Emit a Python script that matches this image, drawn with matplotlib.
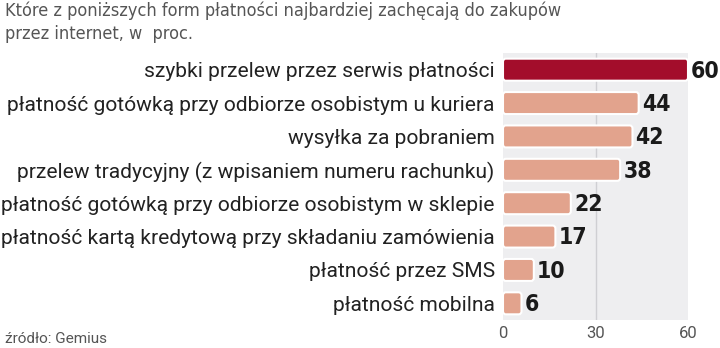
import matplotlib.pyplot as plt
from matplotlib.patches import FancyBboxPatch

title = "Które z poniższych form płatności najbardziej zachęcają do zakupów\nprzez internet, w  proc."
source = "źródło: Gemius"
categories = [
    "szybki przelew przez serwis płatności",
    "płatność gotówką przy odbiorze osobistym u kuriera",
    "wysyłka za pobraniem",
    "przelew tradycyjny (z wpisaniem numeru rachunku)",
    "płatność gotówką przy odbiorze osobistym w sklepie",
    "płatność kartą kredytową przy składaniu zamówienia",
    "płatność przez SMS",
    "płatność mobilna",
]
values = [60, 44, 42, 38, 22, 17, 10, 6]
xticks = [0, 30, 60]

highlight = "#A30D2B"
normal = "#E2A38D"

fig = plt.figure(figsize=(7.2, 3.48), dpi=100)
ax = fig.add_axes([503 / 720, 1 - 320 / 348, 185 / 720, 267 / 348])
ax.set_facecolor("#EEEEF0")

ypos = list(range(len(values)))
colors = [highlight] + [normal] * (len(values) - 1)
bars = ax.barh(ypos, values, height=0.66, color="none", edgecolor="none")
for b, c in zip(bars, colors):
    # rounded bar with a white rim, drawn from the bar's own geometry
    patch = FancyBboxPatch((b.get_x(), b.get_y()), b.get_width(), b.get_height(),
                           boxstyle="round,pad=0,rounding_size=0.9",
                           mutation_aspect=0.1,
                           facecolor=c, edgecolor="white", linewidth=1.5, zorder=3)
    ax.add_patch(patch)

for y, v in zip(ypos, values):
    ax.text(v + 1.0, y + 0.04, str(v), va="center", ha="left",
            fontsize=16.5, fontweight="bold", color="#1a1a1a",
            family="DejaVu Sans", fontstretch="condensed")

ax.set_xlim(0, 60)
ax.set_ylim(len(values) - 0.5, -0.5)
ax.set_xticks(xticks)
ax.set_xticklabels([str(t) for t in xticks], fontsize=12, color="#555555",
                   family=["Roboto", "DejaVu Sans"])
ax.axvline(30, color="#cfcfd3", linewidth=1, zorder=1)
ax.tick_params(axis="x", length=0, pad=4)
ax.set_yticks(ypos)
ax.set_yticklabels(categories, fontsize=15.1, color="#222222",
                   family=["Roboto", "DejaVu Sans"])
ax.tick_params(axis="y", length=0, pad=6)
for s in ax.spines.values():
    s.set_visible(False)

fig.text(5 / 720, 1 - 2 / 348, title, ha="left", va="top", fontsize=13,
         color="#555555", family="DejaVu Sans", fontstretch="condensed",
         linespacing=1.35)
fig.text(5 / 720, 1 - 346 / 348, source, ha="left", va="bottom", fontsize=11,
         color="#555555", family=["Roboto", "DejaVu Sans"])

fig.savefig("out.png", dpi=100)
